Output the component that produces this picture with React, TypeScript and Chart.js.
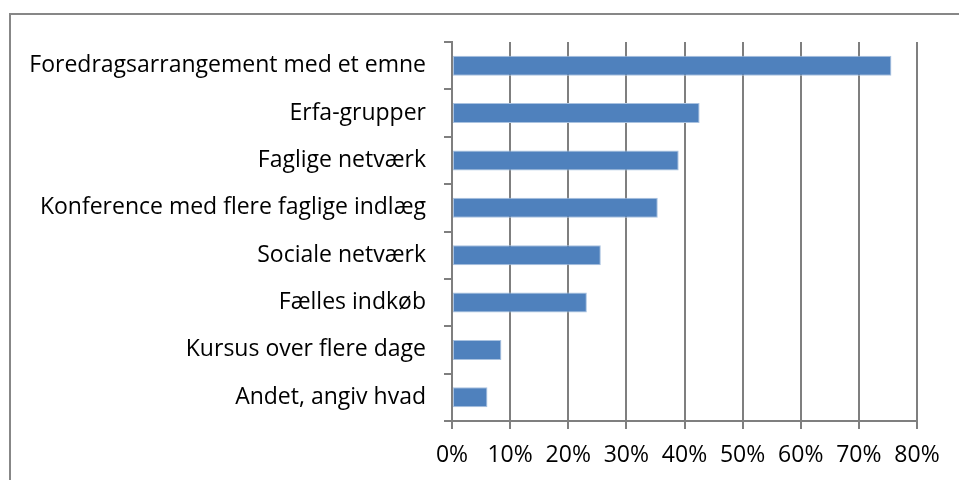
import React, { useEffect, useRef } from "react";
import { Chart, registerables } from "chart.js";

Chart.register(...registerables);

const categories: string[] = [
  "Foredragsarrangement med et emne",
  "Erfa-grupper",
  "Faglige netværk",
  "Konference med flere faglige indlæg",
  "Sociale netværk",
  "Fælles indkøb",
  "Kursus over flere dage",
  "Andet, angiv hvad",
];

const values: number[] = [75.6, 42.6, 39.0, 35.4, 25.6, 23.2, 8.5, 6.1];

const xMin = 0;
const xMax = 80;
const xStep = 10;

const FONT = "'Open Sans', 'Liberation Sans', sans-serif";

const framePlugin = {
  id: "frame",
  beforeDraw(chart: any) {
    const ctx = chart.ctx;
    ctx.save();
    ctx.fillStyle = "#ffffff";
    ctx.fillRect(0, 0, chart.width, chart.height);
    ctx.strokeStyle = "#878787";
    ctx.lineWidth = 2;
    ctx.strokeRect(10, 14, chart.width + 20, chart.height + 20);
    ctx.restore();
  },
};

export default function App() {
  const ref = useRef<HTMLCanvasElement | null>(null);

  useEffect(() => {
    if (!ref.current) return;
    const chart = new Chart(ref.current, {
      type: "bar",
      data: {
        labels: categories,
        datasets: [
          {
            data: values,
            backgroundColor: "#4F81BD",
            borderColor: "#A9C2E0",
            borderWidth: 1,
            borderSkipped: false,
            barPercentage: 0.42,
            categoryPercentage: 1,
          },
        ],
      },
      options: {
        indexAxis: "y",
        animation: false,
        responsive: false,
        maintainAspectRatio: false,
        layout: { padding: { left: 0, right: 42, top: 42, bottom: 0 } },
        plugins: {
          legend: { display: false },
          tooltip: { enabled: false },
        },
        scales: {
          x: {
            min: xMin,
            max: xMax,
            afterFit: (s: any) => {
              s.height = 59;
            },
            ticks: {
              stepSize: xStep,
              callback: (v: any) => `${v}%`,
              color: "#000000",
              font: { family: FONT, size: 23 },
              padding: 13,
              maxRotation: 0,
            },
            grid: {
              color: "#7f7f7f",
              lineWidth: 2,
              tickLength: 8,
              tickColor: "#7f7f7f",
            },
            border: { color: "#7f7f7f", width: 2 },
          },
          y: {
            afterFit: (s: any) => {
              s.width = 452;
            },
            ticks: {
              color: "#000000",
              font: { family: FONT, size: 23 },
              padding: 18,
              autoSkip: false,
            },
            grid: {
              offset: true,
              drawOnChartArea: false,
              drawTicks: true,
              tickLength: 8,
              tickColor: "#7f7f7f",
              lineWidth: 2,
            },
            border: { color: "#7f7f7f", width: 2 },
          },
        },
      },
      plugins: [framePlugin],
    });
    return () => chart.destroy();
  }, []);

  return (
    <div style={{ position: "fixed", left: 0, top: 0, width: 959, height: 480 }}>
      <canvas ref={ref} width={959} height={480} style={{ width: 959, height: 480 }} />
    </div>
  );
}
